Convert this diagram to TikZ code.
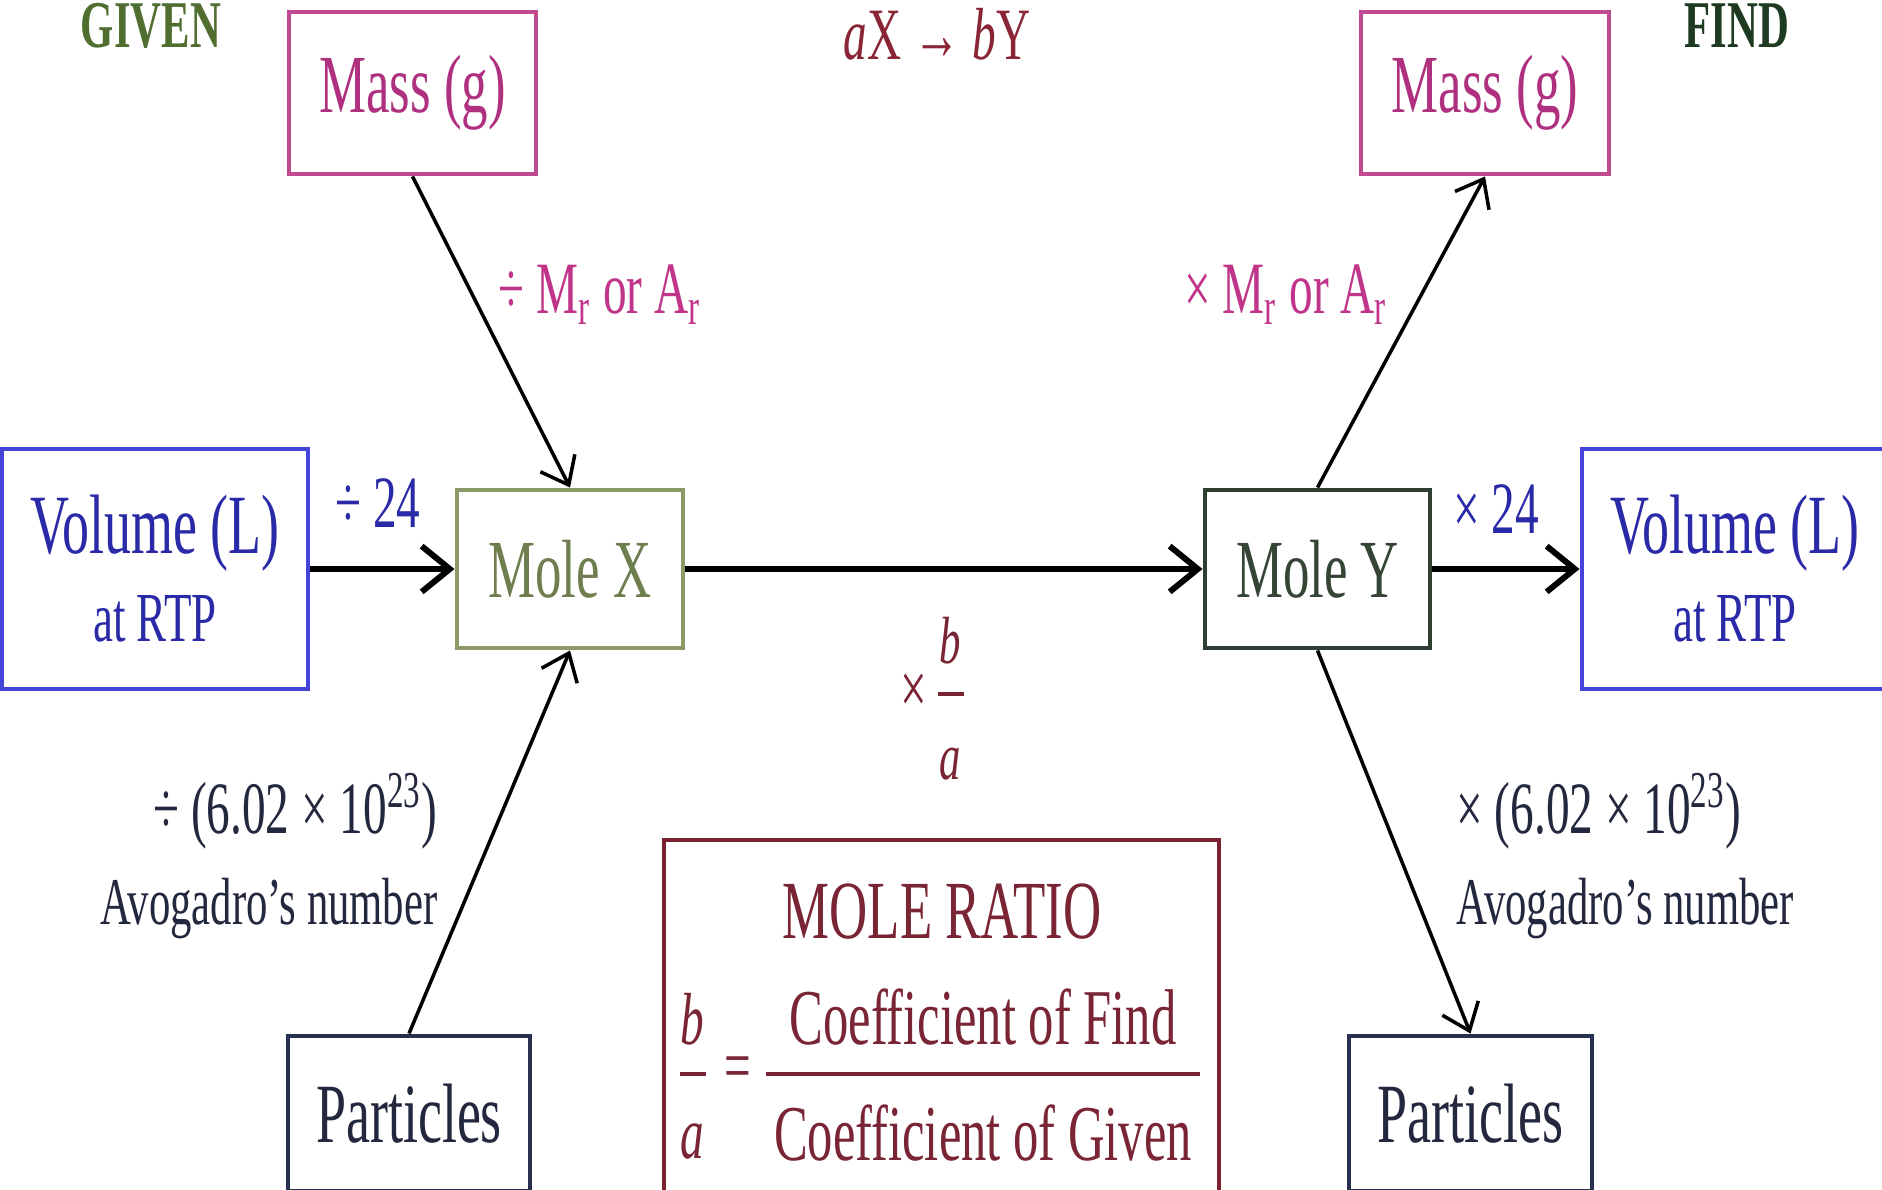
\documentclass[tikz,border=0pt]{standalone}
\usepackage{fontspec}
\setmainfont{Liberation Serif}[FakeStretch=0.64]
\usetikzlibrary{arrows.meta}

\definecolor{givenc}{HTML}{4F6E30}
\definecolor{findc}{HTML}{1E3A20}
\definecolor{massc}{HTML}{C04A90}
\definecolor{masstxt}{HTML}{B03080}
\definecolor{mrtxt}{HTML}{C0358A}
\definecolor{volc}{HTML}{4444D8}
\definecolor{voltxt}{HTML}{2A2AA8}
\definecolor{molexc}{HTML}{8C9A68}
\definecolor{molextxt}{HTML}{6E7E4E}
\definecolor{moleyc}{HTML}{2E3E30}
\definecolor{moleytxt}{HTML}{354535}
\definecolor{partc}{HTML}{283050}
\definecolor{parttxt}{HTML}{23283F}
\definecolor{ratioc}{HTML}{7A2232}
\definecolor{ratiotxt}{HTML}{7A2535}
\definecolor{eqntxt}{HTML}{8A2535}

\begin{document}
\begin{tikzpicture}[every node/.style={align=center}]
\tikzset{
  bigtext/.style={font=\fontsize{23.5}{27}\selectfont},
  midtext/.style={font=\fontsize{21}{25}\selectfont},
  smalltext/.style={font=\fontsize{19}{22}\selectfont},
  headtext/.style={font=\bfseries\fontsize{19}{22}\selectfont},
  box/.style={draw, line width=1.4pt, inner sep=0pt, fill=white},
  flow/.style={-{Straight Barb[length=8pt,width=13pt]}, line width=1.7pt},
  slant/.style={-{Straight Barb[length=7pt,width=11pt]}, line width=1pt}
}
\useasboundingbox (0,0) rectangle (18.82,-11.90);
\clip (0,0) rectangle (18.82,-11.90);

% headings
\node[headtext, text=givenc, anchor=base] (given) at (1.51,-0.48) {GIVEN};
\node[headtext, text=findc, anchor=base] (find) at (17.37,-0.48) {FIND};
\node[midtext, text=eqntxt, anchor=base] (eqn) at (9.37,-0.60) {\textit{a}X → \textit{b}Y};

% boxes
\node[box, draw=massc, text=masstxt, bigtext, minimum width=2.47cm, minimum height=1.62cm] (massL) at (4.125,-0.93) {Mass (g)};
\node[box, draw=massc, text=masstxt, bigtext, minimum width=2.48cm, minimum height=1.62cm] (massR) at (14.85,-0.93) {Mass (g)};
\node[box, draw=volc, text=voltxt, minimum width=3.06cm, minimum height=2.40cm, font=\fontsize{24}{25}\selectfont] (volL) at (1.55,-5.69)
  {Volume (L)\\{\fontsize{20}{25}\selectfont at RTP}};
\node[box, draw=volc, text=voltxt, minimum width=3.06cm, minimum height=2.40cm, font=\fontsize{24}{25}\selectfont] (volR) at (17.35,-5.69)
  {Volume (L)\\{\fontsize{20}{25}\selectfont at RTP}};
\node[box, draw=molexc, text=molextxt, bigtext, minimum width=2.26cm, minimum height=1.58cm] (moleX) at (5.70,-5.69) {Mole X};
\node[box, draw=moleyc, text=moleytxt, bigtext, minimum width=2.25cm, minimum height=1.58cm] (moleY) at (13.175,-5.69) {Mole Y};
\node[box, draw=partc, text=parttxt, font=\fontsize{24}{27}\selectfont, minimum width=2.42cm, minimum height=1.55cm] (partL) at (4.09,-11.135) {Particles};
\node[box, draw=partc, text=parttxt, font=\fontsize{24}{27}\selectfont, minimum width=2.43cm, minimum height=1.55cm] (partR) at (14.705,-11.135) {Particles};

% mole ratio
\node[box, draw=ratioc, minimum width=5.55cm, minimum height=3.52cm] (ratio) at (9.415,-10.16) {};
\node[bigtext, text=ratiotxt, anchor=base] (title) at (9.42,-9.38) {MOLE RATIO};
\node[font=\fontsize{22.5}{26}\selectfont, text=ratiotxt, anchor=base] (cfind) at (9.83,-10.44) {Coefficient of Find};
\node[font=\fontsize{22.5}{26}\selectfont, text=ratiotxt, anchor=base] (cgiven) at (9.83,-11.60) {Coefficient of Given};
\draw[ratiotxt, line width=1pt] (7.66,-10.74) -- (12.00,-10.74);
\node[midtext, text=ratiotxt, anchor=base] (bnum) at (6.92,-10.44) {\textit{b}};
\node[midtext, text=ratiotxt, anchor=base] (aden) at (6.92,-11.58) {\textit{a}};
\draw[ratiotxt, line width=1pt] (6.80,-10.74) -- (7.06,-10.74);
\node[midtext, text=ratiotxt] (equals) at (7.38,-10.74) {=};

% labels
\node[midtext, text=mrtxt, anchor=base] (divmr) at (6.00,-3.14) {÷ M\textsubscript{r} or A\textsubscript{r}};
\node[midtext, text=mrtxt, anchor=base] (mulmr) at (12.86,-3.14) {× M\textsubscript{r} or A\textsubscript{r}};
\node[midtext, text=voltxt, anchor=base] (div24) at (3.78,-5.28) {÷ 24};
\node[midtext, text=voltxt, anchor=base] (mul24) at (14.96,-5.34) {× 24};
\node[midtext, text=parttxt, anchor=base east] (divavo) at (4.50,-8.34) {÷ (6.02 × 10\textsuperscript{23})};
\node[smalltext, text=parttxt, anchor=base east] (avoL) at (4.50,-9.24) {Avogadro's number};
\node[midtext, text=parttxt, anchor=base west] (mulavo) at (14.44,-8.34) {× (6.02 × 10\textsuperscript{23})};
\node[smalltext, text=parttxt, anchor=base west] (avoR) at (14.44,-9.24) {Avogadro's number};
\node[midtext, text=ratiotxt] (times) at (9.14,-6.94) {×};
\node[smalltext, text=ratiotxt, anchor=base] (bsm) at (9.50,-6.64) {\textit{b}};
\node[smalltext, text=ratiotxt, anchor=base] (asm) at (9.50,-7.80) {\textit{a}};
\draw[ratiotxt, line width=0.9pt] (9.38,-6.94) -- (9.64,-6.94);

% arrows
\draw[flow] (volL) -- (moleX);
\draw[flow] (moleX) -- (moleY);
\draw[flow] (moleY) -- (volR);
\draw[slant] (massL.south) -- (moleX.north);
\draw[slant] (partL.north) -- (moleX.south);
\draw[slant] (moleY.north) -- (massR.south);
\draw[slant] (moleY.south) -- (partR.north);
\end{tikzpicture}
\end{document}
